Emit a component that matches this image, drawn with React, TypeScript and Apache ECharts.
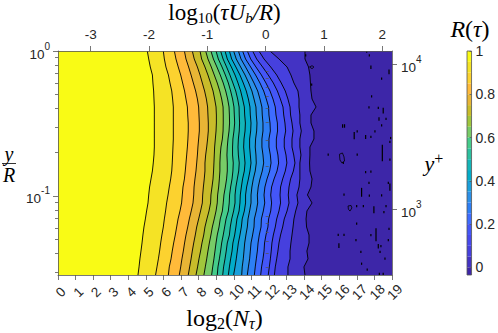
import React, { useEffect, useRef } from "react";
import * as echarts from "echarts";

const ySamples = [1, 0.8807, 0.7756, 0.6831, 0.6016, 0.5298, 0.4666, 0.4109, 0.3619, 0.3187, 0.2807, 0.2472, 0.2177, 0.1917, 0.1689, 0.1487, 0.131, 0.1153, 0.1016, 0.0895, 0.0788, 0.0694, 0.0611, 0.0538, 0.0474, 0.0417, 0.0368, 0.0324, 0.0285];

const level95 = [5.08, 5.16, 5.25, 5.37, 5.40, 5.44, 5.46, 5.48, 5.48, 5.48, 5.48, 5.48, 5.48, 5.46, 5.42, 5.37, 5.29, 5.21, 5.16, 5.12, 5.04, 4.97, 4.89, 4.83, 4.78, 4.72, 4.66, 4.61, 4.55];
const level90 = [5.99, 6.05, 6.14, 6.28, 6.37, 6.47, 6.52, 6.56, 6.56, 6.56, 6.56, 6.56, 6.54, 6.52, 6.50, 6.47, 6.41, 6.33, 6.26, 6.18, 6.12, 6.05, 5.99, 5.91, 5.84, 5.78, 5.71, 5.63, 5.55];
const level85 = [6.62, 6.71, 6.84, 6.98, 7.09, 7.20, 7.28, 7.36, 7.38, 7.41, 7.41, 7.39, 7.36, 7.32, 7.28, 7.24, 7.19, 7.11, 7.07, 7.03, 6.94, 6.83, 6.75, 6.67, 6.58, 6.50, 6.43, 6.33, 6.28];
const level80 = [7.19, 7.28, 7.43, 7.57, 7.70, 7.83, 7.93, 8.00, 8.02, 8.04, 8.04, 8.00, 7.96, 7.93, 7.89, 7.85, 7.79, 7.74, 7.72, 7.68, 7.58, 7.47, 7.38, 7.28, 7.20, 7.13, 7.05, 6.98, 6.90];
const level75 = [7.64, 7.75, 7.93, 8.08, 8.21, 8.34, 8.44, 8.51, 8.53, 8.55, 8.55, 8.51, 8.46, 8.40, 8.36, 8.36, 8.32, 8.27, 8.23, 8.21, 8.11, 8.00, 7.89, 7.81, 7.72, 7.64, 7.57, 7.49, 7.41];
const level70 = [8.08, 8.17, 8.36, 8.53, 8.68, 8.82, 8.91, 8.99, 9.01, 9.01, 8.99, 8.95, 8.91, 8.89, 8.87, 8.85, 8.82, 8.76, 8.70, 8.68, 8.59, 8.47, 8.36, 8.29, 8.19, 8.11, 8.02, 7.94, 7.85];
const level65 = [8.40, 8.53, 8.72, 8.89, 9.06, 9.20, 9.31, 9.39, 9.40, 9.40, 9.39, 9.35, 9.27, 9.23, 9.21, 9.21, 9.18, 9.14, 9.08, 9.06, 8.99, 8.89, 8.78, 8.70, 8.61, 8.53, 8.46, 8.38, 8.30];
const level60 = [8.70, 8.84, 9.04, 9.23, 9.40, 9.54, 9.65, 9.73, 9.75, 9.76, 9.73, 9.67, 9.63, 9.61, 9.63, 9.63, 9.59, 9.52, 9.44, 9.40, 9.35, 9.23, 9.16, 9.06, 8.99, 8.93, 8.87, 8.80, 8.74];
const level55 = [8.99, 9.12, 9.33, 9.52, 9.69, 9.82, 9.93, 10.01, 10.03, 10.05, 10.01, 9.95, 9.93, 9.93, 9.97, 9.95, 9.90, 9.82, 9.76, 9.74, 9.69, 9.56, 9.48, 9.40, 9.31, 9.25, 9.18, 9.10, 9.06];
const level50 = [9.25, 9.39, 9.59, 9.78, 9.95, 10.11, 10.22, 10.30, 10.31, 10.33, 10.31, 10.26, 10.24, 10.26, 10.31, 10.28, 10.20, 10.12, 10.07, 10.07, 9.99, 9.88, 9.80, 9.75, 9.63, 9.57, 9.50, 9.42, 9.37];
const level45 = [9.50, 9.63, 9.86, 10.07, 10.24, 10.39, 10.50, 10.60, 10.62, 10.66, 10.64, 10.58, 10.56, 10.60, 10.64, 10.60, 10.50, 10.43, 10.37, 10.35, 10.30, 10.18, 10.12, 10.05, 9.95, 9.90, 9.82, 9.75, 9.69];
const level40 = [9.75, 9.88, 10.12, 10.35, 10.54, 10.71, 10.83, 10.92, 10.94, 10.98, 10.96, 10.90, 10.90, 10.94, 10.98, 10.92, 10.83, 10.73, 10.67, 10.67, 10.60, 10.48, 10.43, 10.35, 10.26, 10.20, 10.14, 10.07, 9.99];
const level35 = [9.99, 10.14, 10.39, 10.64, 10.85, 11.03, 11.15, 11.26, 11.28, 11.32, 11.30, 11.24, 11.22, 11.26, 11.28, 11.22, 11.11, 11.03, 10.98, 10.98, 10.90, 10.81, 10.77, 10.69, 10.62, 10.58, 10.54, 10.48, 10.45];
const level30 = [10.26, 10.41, 10.67, 10.92, 11.15, 11.36, 11.49, 11.60, 11.62, 11.66, 11.66, 11.60, 11.60, 11.66, 11.70, 11.62, 11.49, 11.39, 11.34, 11.36, 11.28, 11.17, 11.15, 11.07, 10.98, 10.94, 10.90, 10.83, 10.77];
const level25 = [10.50, 10.67, 10.96, 11.24, 11.49, 11.70, 11.85, 11.98, 12.00, 12.06, 12.08, 12.00, 12.00, 12.08, 12.12, 12.04, 11.89, 11.77, 11.72, 11.76, 11.68, 11.57, 11.55, 11.45, 11.38, 11.34, 11.28, 11.22, 11.17];
const level20 = [10.77, 10.96, 11.26, 11.57, 11.83, 12.06, 12.23, 12.36, 12.40, 12.48, 12.49, 12.42, 12.42, 12.51, 12.55, 12.46, 12.29, 12.15, 12.10, 12.15, 12.10, 11.98, 11.94, 11.83, 11.75, 11.72, 11.66, 11.58, 11.53];
const level15 = [11.07, 11.30, 11.64, 11.96, 12.25, 12.48, 12.65, 12.80, 12.84, 12.91, 12.95, 12.87, 12.87, 12.97, 13.02, 12.93, 12.78, 12.66, 12.63, 12.66, 12.57, 12.44, 12.36, 12.25, 12.17, 12.13, 12.08, 12.02, 11.96];
const level10 = [11.43, 11.72, 12.10, 12.44, 12.70, 12.93, 13.08, 13.20, 13.23, 13.31, 13.37, 13.31, 13.31, 13.41, 13.48, 13.39, 13.23, 13.14, 13.10, 13.14, 13.03, 12.87, 12.78, 12.66, 12.57, 12.51, 12.44, 12.36, 12.31];
const level05 = [12.06, 12.57, 13.03, 13.25, 13.42, 13.65, 13.71, 13.71, 13.76, 13.76, 13.84, 13.76, 13.76, 13.82, 13.76, 13.76, 13.76, 13.71, 13.59, 13.65, 13.52, 13.42, 13.37, 13.31, 13.25, 13.20, 13.20, 13.08, 13.08];
const level00 = [14.05, 14.05, 14.25, 14.33, 14.36, 14.39, 14.45, 14.68, 14.39, 14.39, 14.56, 14.56, 14.33, 14.33, 14.31, 14.33, 14.45, 14.39, 14.19, 14.45, 14.16, 14.11, 14.14, 14.28, 14.28, 14.16, 14.22, 13.99, 14.05];
const contours = [level95, level90, level85, level80, level75, level70, level65, level60, level55, level50, level45, level40, level35, level30, level25, level20, level15, level10, level05, level00];

const bandTop = [1, 0.95, 0.9, 0.85, 0.8, 0.75, 0.7, 0.65, 0.6, 0.55, 0.5, 0.45, 0.4, 0.35, 0.3, 0.25, 0.2, 0.15, 0.1, 0.05, 0];
const bandBottom = [0.95, 0.9, 0.85, 0.8, 0.75, 0.7, 0.65, 0.6, 0.55, 0.5, 0.45, 0.4, 0.35, 0.3, 0.25, 0.2, 0.15, 0.1, 0.05, 0, -0.035];
const bandColors = ["#F9FB15", "#F5E325", "#FCD22F", "#FFBA3A", "#E8B535", "#C9BC2A", "#A0C63C", "#78CC67", "#45CC8A", "#2CC09F", "#14B5B8", "#03ACC9", "#1A9FDB", "#2B90E8", "#2D7FF5", "#3E6CFF", "#4456F8", "#4749EE", "#4640DE", "#4333C4", "#3D26A8"];

const speckX = [14.09, 14.43, 17.56, 17.71, 17.80, 18.83, 18.41, 17.84, 17.69, 18.22, 18.50, 18.26, 18.66, 18.41, 16.19, 16.30, 17.02, 16.85, 18.03, 17.50, 17.80, 18.92, 18.88, 18.45, 15.37, 17.02, 18.88, 16.23, 17.50, 17.80, 18.79, 18.88, 17.69, 17.27, 16.27, 17.71, 18.41, 16.99, 17.37, 17.97, 18.66, 18.54, 16.99, 18.83, 18.09, 17.80, 15.94, 16.27, 15.98, 16.95, 18.79, 18.22, 18.37, 18.32, 17.23, 18.60, 17.27, 17.59, 18.28, 18.50];
const speckY = [0.934, 0.586, 0.992, 0.934, 0.772, 0.717, 0.644, 0.487, 0.409, 0.405, 0.388, 0.34, 0.34, 0.307, 0.304, 0.304, 0.279, 0.261, 0.279, 0.255, 0.256, 0.251, 0.236, 0.198, 0.193, 0.193, 0.178, 0.169, 0.146, 0.147, 0.123, 0.115, 0.123, 0.106, 0.102, 0.1005, 0.101, 0.085, 0.085, 0.0804, 0.085, 0.0775, 0.0644, 0.0592, 0.0541, 0.0536, 0.0538, 0.0538, 0.0454, 0.0495, 0.0495, 0.045, 0.045, 0.0411, 0.0411, 0.037, 0.0341, 0.031, 0.029, 0.029];
const speckSpan = [1.01, 1.01, 1.01, 1.01, 1.02, 1.03, 1.01, 1.01, 1.01, 1.01, 1.04, 1.02, 1.01, 1.01, 1.02, 1.02, 1.01, 1.05, 1.01, 1.025, 1.01, 1.01, 1.01, 1.13, 1.01, 1.01, 1.01, 1.01, 1.01, 1.01, 1.01, 1.05, 1.01, 1.065, 1.01, 1.01, 1.01, 1.01, 1.01, 1.05, 1.01, 1.01, 1.01, 1.01, 1.1, 1.01, 1.01, 1.01, 1.03, 1.01, 1.01, 1.03, 1.01, 1.01, 1.01, 1.01, 1.01, 1.01, 1.01, 1.01];

const ringAX = [16.01, 16.18, 16.27, 16.30, 16.15, 16.04];
const ringAY = [0.194, 0.198, 0.186, 0.174, 0.169, 0.177];
const ringBX = [16.50, 16.67, 16.72, 16.61, 16.52];
const ringBY = [0.0853, 0.086, 0.0827, 0.0787, 0.081];
const ringCX = [14.31, 14.45, 14.56, 14.45];
const ringCY = [0.776, 0.792, 0.776, 0.755];
const rings = [[ringAX, ringAY], [ringBX, ringBY], [ringCX, ringCY]];

const bottomEvenTicks = [0, 2, 4, 6, 8, 10, 12, 14, 16, 18];
const bottomOddTicks = [1, 3, 5, 7, 9, 11, 13, 15, 17, 19];
const topTicks = [-3, -2, -1, 0, 1, 2];
const leftMajor = [1, 0.1];
const leftMinor = [0.9, 0.8, 0.7, 0.6, 0.5, 0.4, 0.3, 0.2, 0.09, 0.08, 0.07, 0.06, 0.05, 0.04, 0.03];
const rightMajor = [10000, 1000];
const rightMinor = [9000, 8000, 7000, 6000, 5000, 4000, 3000, 2000, 900, 800, 700, 600, 500, 400];
const colorbarTicks = [0, 0.2, 0.4, 0.6, 0.8, 1];

const INK = "#262626";
const FRAME = "#555555";
const SANS = "'Liberation Sans', Arial, sans-serif";
const SERIF = "'Liberation Serif', 'Times New Roman', serif";

const powerRich = {
  b: { fontFamily: SANS, fontSize: 13.5, color: INK, lineHeight: 20, verticalAlign: "bottom" as const },
  e: { fontFamily: SANS, fontSize: 10, color: INK, lineHeight: 20, verticalAlign: "top" as const },
};
const powerLabel = (v: number) => `{b|10}{e|${Math.round(Math.log10(v))}}`;

const mathRich = (size: number, subSize: number) => ({
  r: { fontFamily: SERIF, fontSize: size, color: "#000", lineHeight: 26, verticalAlign: "middle" as const },
  i: { fontFamily: SERIF, fontStyle: "italic" as const, fontSize: size, color: "#000", lineHeight: 26, verticalAlign: "middle" as const },
  s: { fontFamily: SERIF, fontSize: subSize, color: "#000", lineHeight: 26, verticalAlign: "bottom" as const },
  si: { fontFamily: SERIF, fontStyle: "italic" as const, fontSize: subSize, color: "#000", lineHeight: 26, verticalAlign: "bottom" as const },
  p: { fontFamily: SERIF, fontSize: subSize, color: "#000", lineHeight: 26, verticalAlign: "top" as const },
});

const axisLineStyle = { color: FRAME, width: 0.8 };

function buildOption() {
  const yMin = ySamples[ySamples.length - 1];
  const yMax = ySamples[0];
  const xMax = 19;

  const logAxisBase = (position: string, min: number, max: number) => ({
    type: "log" as const,
    gridIndex: 0,
    position,
    min,
    max,
    z: 5,
    splitLine: { show: false },
    minorTick: { show: false },
    axisLine: { show: true, onZero: false, lineStyle: axisLineStyle },
  });

  const bottomLabel = (values: number[]) => ({
    rotate: 45, margin: 20, fontFamily: SANS, fontSize: 13.5, color: INK, customValues: values,
    formatter: (v: number) => String(v), hideOverlap: false, interval: 0, align: "center", verticalAlign: "middle", padding: [0, 0, 0, 8],
  });

  return {
    animation: false,
    backgroundColor: "#ffffff",
    grid: [
      { left: 58, top: 51, width: 334, height: 224, show: false, containLabel: false },
      { left: 467, top: 51, width: 6.5, height: 224, show: true, borderColor: FRAME, borderWidth: 0.8, backgroundColor: "transparent", z: 5 },
    ],
    xAxis: [
      {
        type: "value", gridIndex: 0, position: "bottom", min: 0, max: xMax, interval: 1, z: 5,
        splitLine: { show: false },
        axisLine: { show: true, onZero: false, lineStyle: axisLineStyle },
        axisTick: { length: 5, lineStyle: axisLineStyle },
        axisLabel: bottomLabel(bottomEvenTicks),
      },
      {
        type: "value", gridIndex: 0, position: "top", min: -3.56, max: 2.166, z: 5,
        splitLine: { show: false },
        axisLine: { show: true, onZero: false, lineStyle: axisLineStyle },
        axisTick: { length: 5, lineStyle: axisLineStyle, customValues: topTicks },
        axisLabel: { margin: 10, fontFamily: SANS, fontSize: 13.5, color: INK, customValues: topTicks, formatter: (v: number) => String(v) },
      },
      { type: "value", gridIndex: 1, min: 0, max: 1, show: false },
      {
        type: "value", gridIndex: 0, position: "bottom", min: 0, max: xMax, interval: 1, z: 5,
        splitLine: { show: false },
        axisLine: { show: false, onZero: false },
        axisTick: { show: false },
        axisLabel: bottomLabel(bottomOddTicks),
      },
    ],
    yAxis: [
      {
        ...logAxisBase("left", yMin, yMax),
        axisTick: { length: 5, lineStyle: axisLineStyle, customValues: leftMajor },
        axisLabel: { margin: 8, customValues: leftMajor, formatter: powerLabel, rich: powerRich },
      },
      {
        ...logAxisBase("left", yMin, yMax),
        axisLine: { show: false },
        axisTick: { length: 3, lineStyle: axisLineStyle, customValues: leftMinor },
        axisLabel: { show: false },
      },
      {
        ...logAxisBase("right", 353.5, 12390),
        axisTick: { length: 5, lineStyle: axisLineStyle, customValues: rightMajor },
        axisLabel: { margin: 9, customValues: rightMajor, formatter: powerLabel, rich: powerRich },
      },
      {
        ...logAxisBase("right", 353.5, 12390),
        axisLine: { show: false },
        axisTick: { length: 3, lineStyle: axisLineStyle, customValues: rightMinor },
        axisLabel: { show: false },
      },
      {
        type: "value", gridIndex: 1, position: "right", min: -0.035, max: 1, z: 6,
        splitLine: { show: false },
        axisLine: { show: false, onZero: false },
        axisTick: { inside: true, length: 2, lineStyle: { color: FRAME, width: 0.8 }, customValues: colorbarTicks },
        axisLabel: { margin: 4, fontFamily: SANS, fontSize: 14, color: INK, customValues: colorbarTicks, formatter: (v: number) => String(v) },
      },
    ],
    series: [
      {
        type: "custom", coordinateSystem: "cartesian2d", xAxisIndex: 0, yAxisIndex: 0, silent: true, clip: true, z: 2,
        data: bandColors.map(() => [1, 0.5]),
        renderItem: (params: any, api: any) => {
          const i = params.dataIndex;
          const edge = i === 0 ? ySamples.map(() => 0) : contours[i - 1];
          const pts = ySamples.map((y, k) => api.coord([edge[k], y]));
          pts.push(api.coord([xMax, yMin]), api.coord([xMax, yMax]));
          return { type: "polygon", shape: { points: pts }, style: { fill: bandColors[i], stroke: null } };
        },
      },
      {
        type: "custom", coordinateSystem: "cartesian2d", xAxisIndex: 0, yAxisIndex: 0, silent: true, clip: true, z: 3,
        data: contours.map(() => [1, 0.5]),
        renderItem: (params: any, api: any) => ({
          type: "polyline",
          shape: { points: ySamples.map((y, k) => api.coord([contours[params.dataIndex][k], y])) },
          style: { fill: null, stroke: "#000", lineWidth: 0.9 },
        }),
      },
      {
        type: "custom", coordinateSystem: "cartesian2d", xAxisIndex: 0, yAxisIndex: 0, silent: true, clip: true, z: 3,
        data: speckX.map((x, i) => [x, speckY[i], speckSpan[i]]),
        renderItem: (params: any, api: any) => {
          const x = api.value(0), y = api.value(1), s = api.value(2);
          const a = api.coord([x, y * s]);
          const b = api.coord([x, y / s]);
          return {
            type: "line",
            shape: { x1: a[0], y1: a[1] - 0.5, x2: b[0], y2: b[1] + 0.5 },
            style: { stroke: "#000", lineWidth: 1.2 },
          };
        },
      },
      {
        type: "custom", coordinateSystem: "cartesian2d", xAxisIndex: 0, yAxisIndex: 0, silent: true, clip: true, z: 3,
        data: rings.map(() => [1, 0.5]),
        renderItem: (params: any, api: any) => {
          const [rx, ry] = rings[params.dataIndex];
          return {
            type: "polygon",
            shape: { points: rx.map((x, k) => api.coord([x, ry[k]])) },
            style: { fill: null, stroke: "#000", lineWidth: 0.8 },
          };
        },
      },
      {
        type: "custom", coordinateSystem: "cartesian2d", xAxisIndex: 2, yAxisIndex: 4, silent: true, z: 2,
        data: bandColors.map((_, i) => [0.5, bandTop[i]]),
        renderItem: (params: any, api: any) => {
          const i = params.dataIndex;
          const a = api.coord([0, bandTop[i]]);
          const b = api.coord([1, bandBottom[i]]);
          return {
            type: "rect",
            shape: { x: a[0], y: a[1], width: b[0] - a[0], height: b[1] - a[1] },
            style: { fill: bandColors[i] },
          };
        },
      },
    ],
    graphic: [
      {
        type: "text", x: 224.5, y: 12, silent: true,
        style: { text: "{r|log}{s|10}{r|(}{i|τU}{si|b}{i|/R}{r|)}", rich: mathRich(23, 15), align: "center", verticalAlign: "middle" },
      },
      {
        type: "text", x: 224.5, y: 318, silent: true,
        style: { text: "{r|log}{s|2}{r|(}{i|N}{si|τ}{r|)}", rich: mathRich(24, 16), align: "center", verticalAlign: "middle" },
      },
      {
        type: "text", x: 9, y: 153.5, silent: true,
        style: { text: "y", fontFamily: SERIF, fontStyle: "italic", fontSize: 20, fill: "#000", align: "center", verticalAlign: "middle" },
      },
      { type: "line", silent: true, shape: { x1: 2, y1: 163.5, x2: 16, y2: 163.5 }, style: { stroke: "#000", lineWidth: 0.8 } },
      {
        type: "text", x: 9, y: 175, silent: true,
        style: { text: "R", fontFamily: SERIF, fontStyle: "italic", fontSize: 20, fill: "#000", align: "center", verticalAlign: "middle" },
      },
      {
        type: "text", x: 434, y: 163, silent: true,
        style: { text: "{i|y}{p|+}", rich: mathRich(22, 16), align: "center", verticalAlign: "middle" },
      },
      {
        type: "text", x: 470, y: 29, silent: true,
        style: { text: "{i|R}{r|(}{i|τ}{r|)}", rich: mathRich(24, 14), align: "center", verticalAlign: "middle" },
      },
    ],
  };
}

export default function App() {
  const ref = useRef<HTMLDivElement>(null);
  useEffect(() => {
    document.body.style.margin = "0";
    const chart = echarts.init(ref.current!, undefined, { renderer: "svg" });
    chart.setOption(buildOption() as any);
    return () => chart.dispose();
  }, []);
  return <div ref={ref} style={{ width: 498, height: 333 }} />;
}
